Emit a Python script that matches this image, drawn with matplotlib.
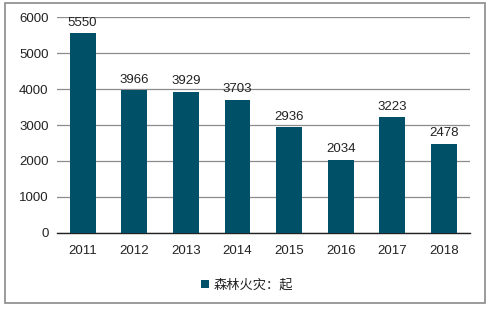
import matplotlib.pyplot as plt
from matplotlib.patches import Rectangle

plt.rcParams['font.family'] = ['Liberation Sans', 'Noto Sans CJK SC']

years = ['2011', '2012', '2013', '2014', '2015', '2016', '2017', '2018']
fires = [5550, 3966, 3929, 3703, 2936, 2034, 3223, 2478]
series_name = '森林火灾：起'
bar_color = '#005068'

fig = plt.figure(figsize=(4.94, 3.11), dpi=100)
ax = fig.add_axes([0.115, 0.251, 0.836, 0.694])

x = range(len(years))
ax.bar(x, fires, width=0.5, color=bar_color, label=series_name, zorder=3)
for xi, v in zip(x, fires):
    ax.text(xi, v + 120, str(v), ha='center', va='bottom', fontsize=9.5,
            color='#222222', zorder=4)

ax.set_xlim(-0.5, len(years) - 0.5)
ax.set_ylim(0, 6000)
ax.set_yticks(range(0, 6001, 1000))
ax.set_xticks(list(x))
ax.set_xticklabels(years)
ax.yaxis.grid(True, color='#8c8c8c', linewidth=0.9, zorder=0)
for s in ['top', 'right', 'left']:
    ax.spines[s].set_visible(False)
ax.spines['bottom'].set_color('#222222')
ax.spines['bottom'].set_linewidth(1.0)
ax.tick_params(axis='both', length=0, labelsize=9.5, colors='#222222')
ax.tick_params(axis='x', pad=9)
ax.tick_params(axis='y', pad=6)

leg = fig.legend(loc='center', bbox_to_anchor=(0.5, 0.083), frameon=False,
                 prop={'family': ['Noto Sans CJK SC'], 'size': 9.5},
                 handlelength=0.6, handleheight=0.6, handletextpad=0.3)
for t in leg.get_texts():
    t.set_color('#222222')

fig.patches.append(Rectangle((5 / 494, 1 - 303 / 311), 480 / 494, 300 / 311,
                             transform=fig.transFigure, fill=False,
                             edgecolor='#8a8a8a', linewidth=1.2))

fig.savefig('out.png', dpi=100)
